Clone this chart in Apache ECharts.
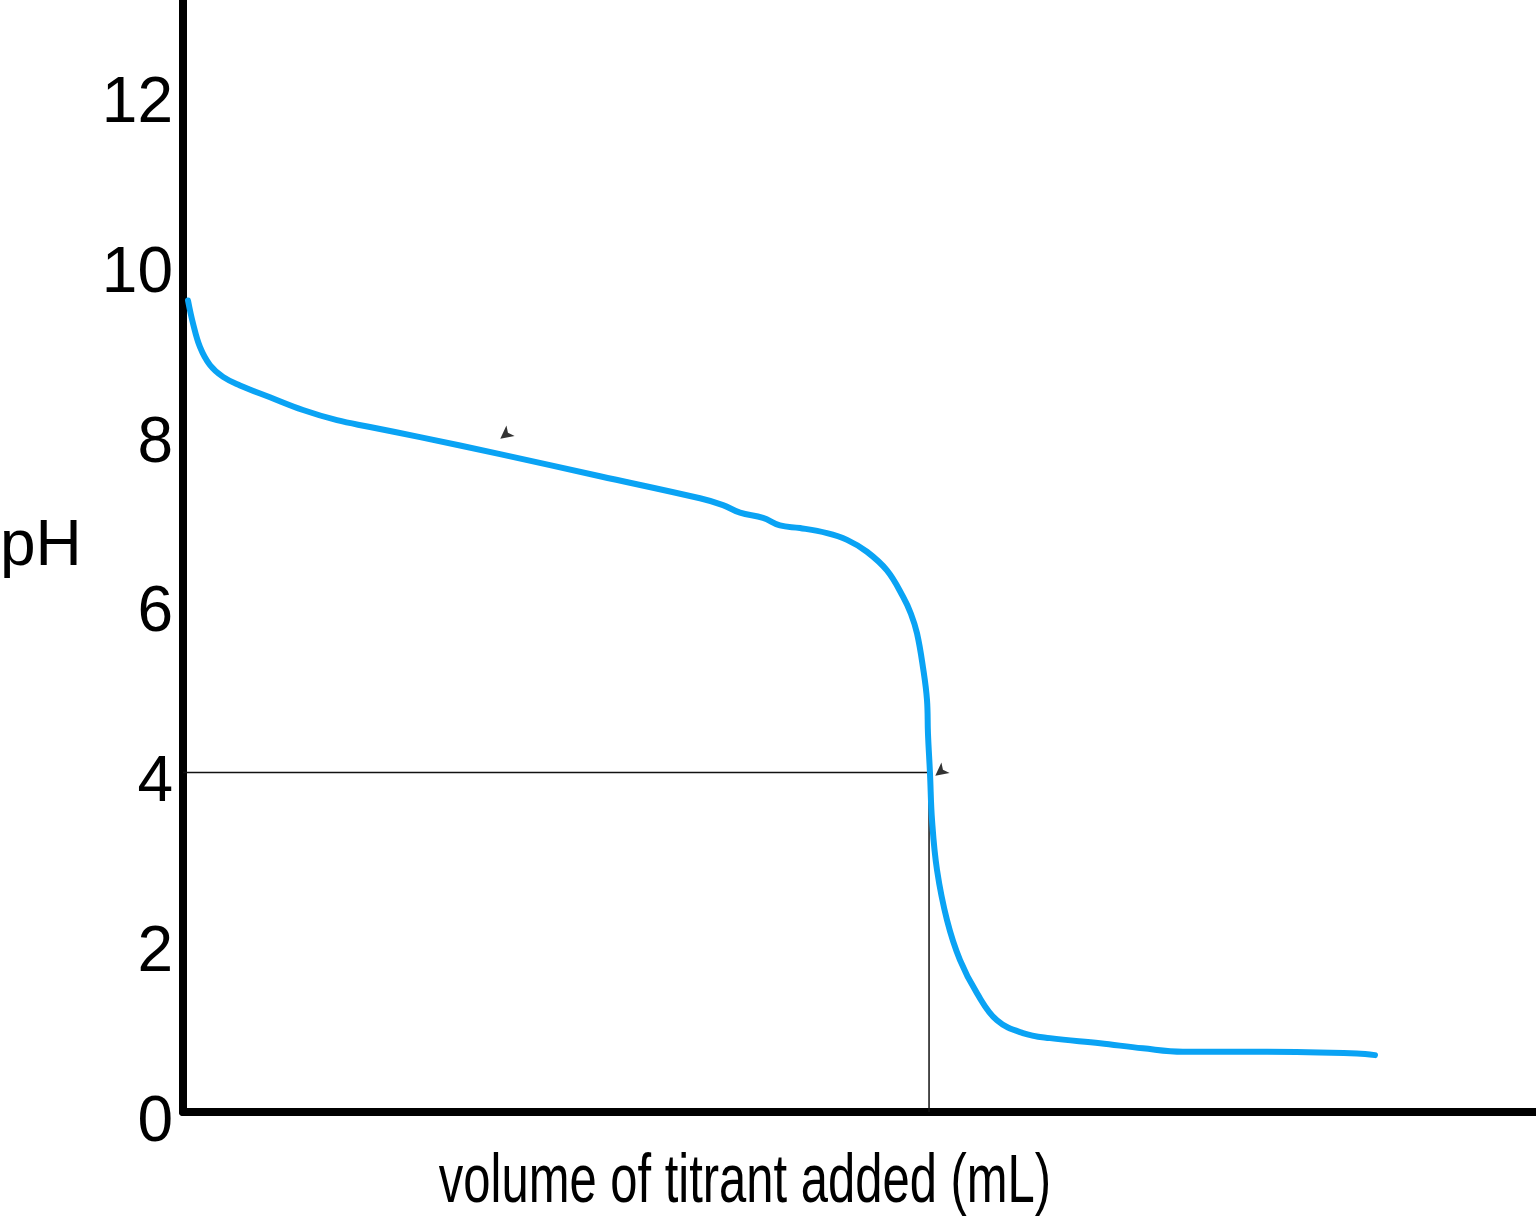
<!DOCTYPE html>
<html>
<head>
<meta charset="utf-8">
<script src="https://cdn.jsdelivr.net/npm/echarts@6/dist/echarts.min.js"></script>
<style>
html,body{margin:0;padding:0;background:#fff;}
#chart{width:1536px;height:1216px;}
</style>
</head>
<body>
<div id="chart"></div>
<script>
// Titration curve (volume in arbitrary units, pH)
const volume = [0.37,0.74,1.26,1.99,2.96,4.21,6.43,8.87,11.38,13.82,17.52,23.43,30.82,38.21,39.91,41.17,42.87,44.12,45.60,47.60,49.08,50.55,52.03,53.22,53.80,54.25,54.69,54.99,55.06,55.21,55.36,55.73,56.47,57.43,58.68,60.16,62.08,64.08,67.78,70.95,73.91,80.12,86.77,88.10];
const pH = [9.56,9.29,9.01,8.80,8.66,8.56,8.42,8.27,8.15,8.07,7.95,7.75,7.49,7.23,7.15,7.06,7.00,6.91,6.88,6.82,6.74,6.60,6.38,6.07,5.87,5.64,5.24,4.85,4.46,3.99,3.44,2.85,2.26,1.79,1.40,1.08,0.93,0.87,0.81,0.75,0.71,0.71,0.69,0.67];
// Guide lines at the half point
const guideVolume = [0, 55.14, 55.14];
const guidePH = [4, 4, 0];
// Small arrow marks
const arrowVolume = [23.45, 55.6];
const arrowPH = [7.93, 3.96];
const yTicks = [0, 2, 4, 6, 8, 10, 12];
const yLabel = 'pH';
const xLabel = 'volume of titrant added (mL)';

const chart = echarts.init(document.getElementById('chart'));
const FONT = 'Liberation Sans, Arial, sans-serif';
chart.setOption({
  animation: false,
  backgroundColor: '#fff',
  grid: {left: 183, right: 0, top: 0, bottom: 104, containLabel: false},
  xAxis: {
    type: 'value', min: 0, max: 100,
    axisLine: {show: true, onZero: false, lineStyle: {color: '#000', width: 8}},
    axisTick: {show: false}, axisLabel: {show: false}, splitLine: {show: false}
  },
  yAxis: {
    type: 'value', min: 0, max: 13.1, interval: 2,
    axisLine: {show: true, onZero: false, lineStyle: {color: '#000', width: 8}},
    axisTick: {show: false}, splitLine: {show: false},
    axisLabel: {
      show: true, margin: 10, showMaxLabel: false,
      color: '#000', fontFamily: FONT, fontSize: 64,
      verticalAlign: 'top', lineHeight: 22,
      formatter: v => yTicks.includes(v) ? String(v) : ''
    }
  },
  graphic: [
    {type: 'text', x: 0, y: 547, style: {text: yLabel, font: '64px ' + FONT, fill: '#000', textAlign: 'left', textVerticalAlign: 'middle'}},
    {type: 'text', x: 745, y: 1183, scaleX: 0.72, style: {text: xLabel, font: '68px ' + FONT, fill: '#000', textAlign: 'center', textVerticalAlign: 'middle'}}
  ],
  series: [
    {
      type: 'line', data: guideVolume.map((v, i) => [v, guidePH[i]]),
      showSymbol: false, lineStyle: {color: '#111', width: 1.5}, z: 2
    },
    {
      type: 'line', data: volume.map((v, i) => [v, pH[i]]),
      smooth: 0.4, showSymbol: false,
      lineStyle: {color: '#0aa3f4', width: 6, cap: 'round', join: 'round'}, z: 3
    },
    {
      type: 'scatter', data: arrowVolume.map((v, i) => [v, arrowPH[i]]),
      symbol: 'arrow', symbolSize: [10, 13], symbolRotate: 128,
      itemStyle: {color: '#000'}, z: 4
    }
  ]
});
</script>
</body>
</html>
